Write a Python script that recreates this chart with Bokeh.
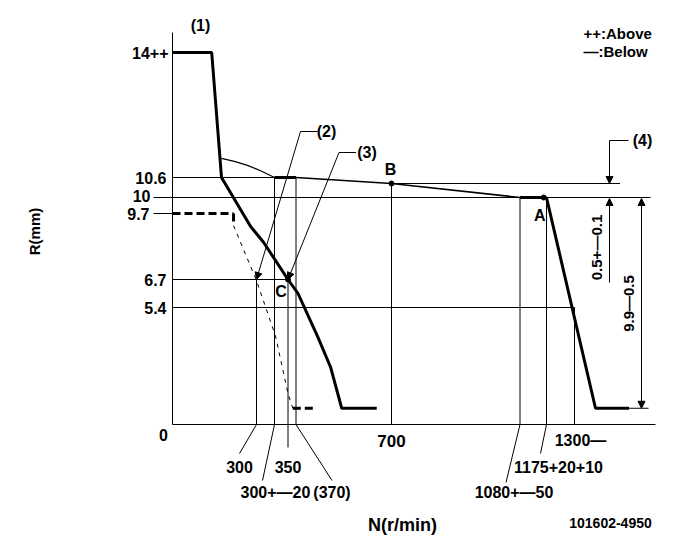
import numpy as np
from bokeh.plotting import figure
from bokeh.models import Range1d, Arrow, NormalHead
from bokeh.embed import file_html
from bokeh.resources import INLINE
from bokeh.core.properties import value

# ---------------- data (N in r/min, R in mm) ----------------
full_N = [0, 140, 175, 279, 308, 350, 377, 446, 490, 528, 649]
full_R = [14, 14, 10.6, 9.11, 8.38, 6.7, 6.05, 4.02, 2.63, 0.75, 0.75]
arc_N = [175, 221, 268, 304, 320]
arc_R = [11.12, 11.04, 10.93, 10.79, 10.6]
plateau_N = [320, 370]
plateau_R = [10.6, 10.6]
droop_N = [370, 700, 1080]
droop_R = [10.6, 10.42, 10.0]
flatA_N = [1080, 1175]
flatA_R = [10.0, 10.0]
cut_N = [1175, 1400, 1550]
cut_R = [10.0, 0.75, 0.75]
idle_N = [0, 218]
idle_R = [9.7, 9.7]
idle_step_N = [218, 218]
idle_step_R = [9.7, 9.15]
idle_fall_N = [218, 300, 322, 350, 362]
idle_fall_R = [9.15, 6.65, 4.1, 1.43, 0.75]
idle_end_N = [362, 442]
idle_end_R = [0.75, 0.75]

point_names = ["B", "A", "C"]
point_N = [700, 1165, 350]
point_R = [10.42, 10.0, 6.7]

y_tick_vals = [14, 10.6, 10, 9.7, 6.7, 5.4]
y_tick_text = ["14++", "10.6", "10", "9.7", "6.7", "5.4"]

# ---------------- schematic (non-linear) scale of the drawing ----------------
N_KNOTS = [0, 300, 320, 350, 370, 700, 1080, 1175, 1300, 1400, 1700]
X_PX = [172, 256, 274, 287.5, 295.5, 391, 519.5, 546, 574, 595, 662]
R_KNOTS = [0, 5.4, 6.7, 9.7, 10, 10.6, 14, 15]
Y_PX = [424, 307, 279, 213, 197, 177, 52, 15]


def fx(n):
    return np.interp(np.asarray(n, dtype=float), N_KNOTS, X_PX)


def fy(r):
    return np.interp(np.asarray(r, dtype=float), R_KNOTS, Y_PX)


W, H = 665, 541
p = figure(width=W, height=H, output_backend="svg", toolbar_location=None,
           x_range=Range1d(0, W), y_range=Range1d(H, 0),
           min_border=0, outline_line_color=None)
p.axis.visible = False
p.grid.visible = False
p.background_fill_color = "white"

K = "black"
FONT = value("Liberation Sans")


def line(xs, ys, w=1.0, dash="solid"):
    p.line(list(xs), list(ys), line_color=K, line_width=w, line_dash=dash)


def txt(x, y, s, size=16, align="center", angle=0.0, bold=True, base="middle"):
    p.text(x=[x], y=[y], text=[s], text_font=FONT, text_font_size=f"{size}px",
           text_font_style="bold" if bold else "normal", text_align=align,
           text_baseline=base, angle=angle, text_color=K)


def arrow(x0, y0, x1, y1, size=7):
    p.add_layout(Arrow(end=NormalHead(size=size, line_color=K, fill_color=K, line_width=1),
                       x_start=x0, y_start=y0, x_end=x1, y_end=y1,
                       line_color=K, line_width=1))


x0 = float(fx(0))
y0 = float(fy(0))

# axes
line([x0, x0], [y0, 32])
line([x0, 655], [y0, y0])

# horizontal guide lines
line(fx([0, 370]), fy([10.6, 10.6]))
line([153, 650], fy([10, 10]))
line([153, x0], fy([9.7, 9.7]))
line(fx([0, 350]), fy([6.7, 6.7]))
line(fx([0, 1300]), fy([5.4, 5.4]))
line(fx([700, 1510]), fy([10.42, 10.42]))

# vertical guide lines
line(fx([300, 300]), fy([6.7, 0]))
line(fx([320, 320]), fy([10.6, 0]))
line(fx([350, 350]), [float(fy(6.7)), y0 + 23])
line(fx([370, 370]), fy([10.6, 0]))
line(fx([700, 700]), fy([10.42, 0]))
line(fx([1080, 1080]), fy([10, 0]))
line(fx([1175, 1175]), fy([10, 0]))
line(fx([1300, 1300]), fy([5.4, 0]))

# leaders below the axis to speed labels
line([fx(300), fx(300) - 17], [y0, y0 + 29])
line([fx(320), fx(320) - 12], [y0, y0 + 56])
line([fx(370), fx(370) + 36], [y0, y0 + 56])
line([fx(1080), fx(1080) - 14], [y0, y0 + 58])
line([fx(1175), fx(1175) - 6], [y0, y0 + 29])

# curves
line(fx(full_N), fy(full_R), 3)
line(fx(arc_N), fy(arc_R), 1.2)
line(fx(plateau_N), fy(plateau_R), 3)
line(fx(droop_N), fy(droop_R), 1.6)
line(fx(flatA_N), fy(flatA_R), 3)
line(fx(cut_N), fy(cut_R), 3)
line(fx(idle_N), fy(idle_R), 3, "8 4")
line(fx(idle_step_N), fy(idle_step_R), 3, "8 4")
line(fx(idle_fall_N), fy(idle_fall_R), 1, "4 5")
line(fx(idle_end_N), fy(idle_end_R), 3, "8 4")

p.scatter(fx(point_N), fy(point_R), size=5, color=K)

# leaders (2) and (3)
cx2, cy2 = float(fx(300)), float(fy(6.7))
arrow(cx2 + 44, cy2 - 148, cx2, cy2)
line([cx2 + 44, cx2 + 61], [cy2 - 148, cy2 - 148])
cx3, cy3 = float(fx(350)), float(fy(6.7))
arrow(cx3 + 51, cy3 - 127, cx3, cy3)
line([cx3 + 51, cx3 + 68], [cy3 - 127, cy3 - 127])

# dimension (4): 0.5 +- 0.1
xd = 609
yB = float(fy(10.42))
y10 = float(fy(10))
line([xd, xd + 19], [140, 140])
arrow(xd, 140, xd, yB)
arrow(xd, 282, xd, y10 + 1)

# dimension 9.9 - 0.5
xe = 641
yl = float(fy(0.75))
line([fx(1550), 648], [yl, yl])
p.add_layout(Arrow(start=NormalHead(size=7, line_color=K, fill_color=K),
                   end=NormalHead(size=7, line_color=K, fill_color=K),
                   x_start=xe, y_start=y10 + 1, x_end=xe, y_end=yl,
                   line_color=K, line_width=1))

# ---------------- texts ----------------
# y tick labels
txt(168, fy(14), "14++", align="right")
txt(166, fy(10.6), "10.6", align="right")
txt(150, fy(10) - 2, "10", align="right")
txt(149, fy(9.7), "9.7", align="right")
txt(166, fy(6.7), "6.7", align="right")
txt(166, fy(5.4), "5.4", align="right")

# x tick labels
txt(163, y0 + 10, "0")
txt(fx(700), y0 + 16, "700", size=17)
txt(fx(1300) + 6, y0 + 16, "1300—")
txt(fx(300) - 17, y0 + 42, "300")
txt(fx(350), y0 + 42, "350")
txt(fx(1175) + 12, y0 + 42, "1175+20+10")
txt(fx(320) - 34, y0 + 68, "300+—20", align="left")
txt(fx(370) + 36, y0 + 68, "(370)")
txt(fx(1080) - 6, y0 + 68, "1080+—50")

# point labels
txt(fx(700) - 1, fy(10.42) - 14, "B")
txt(fx(1165) - 4, fy(10.0) + 18, "A")
txt(fx(350) - 7, fy(6.7) + 12, "C")

# callouts
txt(200, 25, "(1)")
txt(cx2 + 70, cy2 - 148, "(2)")
txt(cx3 + 79, cy3 - 127, "(3)")
txt(642, 140, "(4)")

# legend
txt(583, 33, "++:Above", size=15, align="left")
txt(583, 51, "—:Below", size=15, align="left")

# rotated dimension texts
txt(596, 247, "0.5+—0.1", size=15, angle=np.pi / 2)
txt(628, 303, "9.9—0.5", size=15, angle=np.pi / 2)

# axis titles
txt(34, 231, "R(mm)", size=15, angle=np.pi / 2)
txt(402, 524, "N(r/min)", size=18)
txt(610, 522, "101602-4950", size=14)

open("out.html", "w").write(file_html(p, INLINE))
